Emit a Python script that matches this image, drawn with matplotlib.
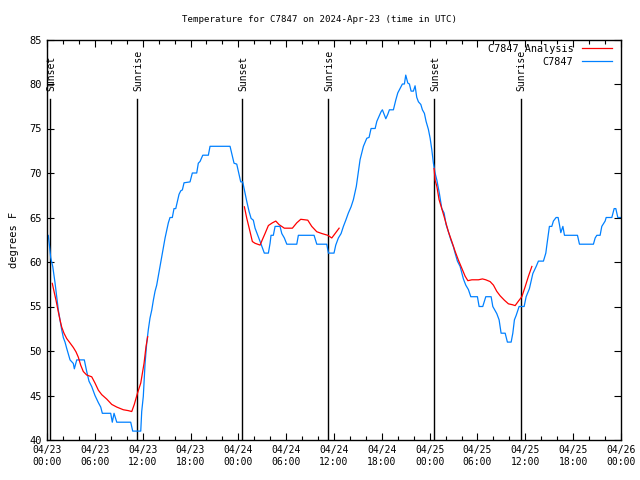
import matplotlib
matplotlib.use("Agg")
import matplotlib.pyplot as plt
from matplotlib.ticker import MultipleLocator, FixedLocator

# hours since 2024-04-23 00:00 UTC
obs_h = [0, 0.16, 0.29, 0.46, 0.72, 1.0, 1.22, 1.42, 1.63, 1.84, 2.05, 2.26, 2.47, 2.89, 3.3, 3.43, 3.73,
         4.68, 4.98, 5.27, 5.61, 6.02, 6.44, 6.74, 6.94, 7.99, 8.19, 8.41, 8.75, 10.5, 10.75, 11.76,
         11.88, 12.08, 12.3, 12.51, 12.71, 12.92, 13.14, 13.34, 13.55, 13.76, 13.96, 14.18, 14.39, 14.59,
         14.81, 15.02, 15.22, 15.43, 15.72, 15.93, 16.15, 16.35, 16.56, 16.78, 16.98, 17.19, 17.94, 18.23,
         18.78, 18.98, 19.2, 19.54, 20.24, 20.45, 22.96, 23.17, 23.46, 23.8, 24.0, 24.3, 24.55, 24.76,
         25.06, 25.34, 25.6, 25.88, 26.1, 26.44, 26.73, 27.01, 27.26, 27.77, 27.98, 28.1, 28.39, 28.61,
         29.23, 29.45, 29.77, 30.08, 31.33, 31.53, 33.5, 33.84, 35.09, 35.3, 36.0, 36.22, 36.55, 36.89,
         37.18, 37.48, 37.8, 38.14, 38.43, 38.8, 39.27, 39.69, 40.11, 40.4, 40.65, 41.16, 41.37, 41.57,
         41.91, 42.07, 42.28, 42.5, 42.75, 42.95, 43.45, 43.75, 44.0, 44.29, 44.58, 44.83, 45.0, 45.26,
         45.46, 45.67, 45.96, 46.17, 46.38, 46.59, 46.89, 47.09, 47.34, 47.55, 47.84, 48.06, 48.27, 48.47,
         48.68, 48.9, 49.22, 49.52, 49.81, 50.06, 50.35, 50.65, 50.98, 51.19, 51.48, 51.82, 52.23, 52.53,
         52.86, 53.16, 53.99, 54.2, 54.66, 55.04, 55.71, 55.92, 56.42, 56.71, 56.96, 57.47, 57.75, 58.22,
         58.43, 58.63, 58.85, 59.22, 59.85, 60.1, 60.51, 60.94, 61.36, 61.64, 62.27, 62.57, 62.7, 63.02,
         63.32, 63.52, 63.86, 64.11, 64.28, 64.45, 64.71, 64.91, 66.54, 66.79, 68.54, 68.76, 68.97, 69.38,
         69.59, 70.01, 70.14, 70.85, 71.14, 71.35, 71.6, 72.0]
obs_t = [63, 63, 62, 60.5, 59.5, 57.7, 56.1, 54.6, 53.5, 52.4, 51.5, 51, 50.3, 49, 48.6, 48, 49,
         49, 47.7, 46.6, 46, 45, 44.2, 43.7, 43, 43, 42, 43, 42, 42, 41, 41,
         43.2, 44.9, 48.6, 50.9, 52.4, 53.7, 54.6, 55.7, 56.7, 57.4, 58.4, 59.5, 60.6, 61.6,
         62.7, 63.6, 64.4, 65, 65, 66, 66, 66.8, 67.6, 68, 68.1, 68.9, 69, 70,
         70, 71.1, 71.3, 72, 72, 73, 73, 72.2, 71.1, 71, 70.2, 69, 69, 68.1,
         66.8, 65.7, 64.9, 64.7, 63.8, 63, 62.3, 61.6, 61, 61, 62.1, 63, 63, 64,
         64, 63.2, 62.7, 62, 62, 63, 63, 62, 62, 61, 61, 61.9, 62.7, 63.2,
         64, 64.7, 65.5, 66.2, 67, 68.5, 71.5, 73, 73.9, 74, 75, 75, 75.8, 76.2,
         76.9, 77.1, 76.6, 76.1, 76.6, 77.1, 77.1, 78.2, 79, 79.5, 80, 80, 81, 80.1,
         80, 79.2, 79.2, 79.8, 78.5, 78, 77.7, 77.1, 76.7, 75.8, 74.9, 73.9, 72.6, 71.1,
         70, 69.2, 67.7, 66, 65.5, 64.2, 63.4, 62.5, 61.7, 61, 60.1, 59.5, 58.1, 57.4,
         56.9, 56.1, 56.1, 55, 55, 56.1, 56.1, 55, 54.2, 53.5, 52, 52, 51, 51,
         52, 53.5, 54, 55, 55, 56.1, 57, 58.7, 59.5, 60.1, 60.1, 61, 61.9, 64,
         64, 64.6, 65, 65, 64.2, 63.3, 64, 63, 63, 62, 62, 62.7, 63, 63,
         64, 64.6, 65, 65, 66, 66, 65, 65]

ana1_h = [0.66, 0.88, 1.13, 1.42, 1.63, 1.84, 2.13, 2.47, 2.89, 3.3, 3.64, 3.93, 4.23, 4.55, 4.98, 5.61,
          6.02, 6.44, 6.86, 7.49, 8.12, 8.75, 9.57, 10.2, 10.63, 10.95, 11.33, 11.76, 12.17, 12.42, 12.63]
ana1_t = [57.6, 56.7, 55.7, 54.4, 53.5, 52.7, 52, 51.4, 50.9, 50.4, 49.9, 49.3, 48.4, 47.7, 47.3, 47.1,
          46.4, 45.6, 45.1, 44.6, 44, 43.7, 43.4, 43.3, 43.2, 44, 45.2, 46.4, 48.6, 50.5, 51.6]
ana2_h = [24.76, 25.06, 25.47, 25.76, 26.1, 26.73, 27.01, 27.35, 27.77, 28.27, 28.7, 29.11, 29.77, 30.78,
          31.33, 31.83, 32.71, 33.21, 33.84, 34.47, 35.22, 35.72, 36.14, 36.64]
ana2_t = [66.2, 64.9, 63.4, 62.3, 62.1, 61.9, 62.5, 63.2, 64.1, 64.4, 64.6, 64.2, 63.8, 63.8,
          64.4, 64.8, 64.7, 64, 63.4, 63.2, 63, 62.7, 63.2, 63.8]
ana3_h = [48.56, 48.68, 48.9, 49.18, 49.52, 49.94, 50.35, 50.78, 51.19, 51.61, 52.03, 52.45, 52.79, 53.29,
          54.12, 54.62, 55.04, 55.58, 56.0, 56.42, 56.84, 57.38, 57.88, 58.38, 58.72, 59.13, 59.56, 59.97,
          60.39, 60.82]
ana3_t = [70.5, 69.2, 68.5, 67, 66, 64.7, 63.4, 62.3, 61.2, 60.2, 59.3, 58.4, 57.9, 58,
          58, 58.1, 58, 57.8, 57.4, 56.7, 56.2, 55.7, 55.3, 55.2, 55.1, 55.6, 56.1, 57.2,
          58.4, 59.5]

sun_h = [0.41, 11.33, 24.5, 35.3, 48.6, 59.4]
sun_lbl = ["Sunset", "Sunrise", "Sunset", "Sunrise", "Sunset", "Sunrise"]

xtick_h = [0, 6, 12, 18, 24, 30, 36, 42, 48, 54, 60, 66, 72]
xtick_lbl = ["04/23\n00:00", "04/23\n06:00", "04/23\n12:00", "04/23\n18:00",
             "04/24\n00:00", "04/24\n06:00", "04/24\n12:00", "04/24\n18:00",
             "04/25\n00:00", "04/25\n06:00", "04/25\n12:00", "04/25\n18:00",
             "04/26\n00:00"]

plt.rcParams['font.family'] = ['DejaVu Sans Mono']
FS = 7

fig = plt.figure(figsize=(6.4, 4.8), dpi=100)
ax = fig.add_axes([47/640, 40/480, 574/640, 400.5/480])

RED = '#ff0000'
BLUE = '#0080ff'

ax.plot(ana1_h, ana1_t, color=RED, lw=0.9, label='C7847 Analysis', zorder=3)
ax.plot(ana2_h, ana2_t, color=RED, lw=0.9, zorder=3)
ax.plot(ana3_h, ana3_t, color=RED, lw=0.9, zorder=3)
ax.plot(obs_h, obs_t, color=BLUE, lw=0.9, label='C7847', zorder=2)

for h, lbl in zip(sun_h, sun_lbl):
    ax.plot([h, h], [40, 78.3], color='black', lw=1.0, zorder=1)
    ax.text(h + 0.1, 79.2, lbl, rotation=90, ha='center', va='bottom', fontsize=FS)

ax.set_xlim(0, 72)
ax.set_ylim(40, 85)
ax.xaxis.set_major_locator(FixedLocator(xtick_h))
ax.set_xticklabels(xtick_lbl, fontsize=FS, linespacing=1.3)
ax.xaxis.set_minor_locator(MultipleLocator(2))
ax.yaxis.set_major_locator(MultipleLocator(5))
ax.tick_params(axis='y', labelsize=FS + 0.5)
ax.tick_params(which='major', direction='in', length=5, width=0.8, top=True, right=True)
ax.tick_params(which='minor', direction='in', length=3, width=0.8, top=True, right=False)
ax.tick_params(axis='y', which='minor', left=False, right=False)
for s in ax.spines.values():
    s.set_linewidth(1.0)
ax.set_ylabel('degrees F', fontsize=FS + 0.5, labelpad=8)
fig.text(0.5, 1 - 20/480, 'Temperature for C7847 on 2024-Apr-23 (time in UTC)',
         ha='center', va='center', fontsize=6.6)

ax.legend(loc='upper right', bbox_to_anchor=(1 - 4/574, 1 + 1/400), frameon=False,
          fontsize=FS + 0.3, markerfirst=False,
          handlelength=3.0, handletextpad=0.8, labelspacing=0.3,
          borderaxespad=0.3, borderpad=0.2)

fig.savefig('out.png', dpi=100)
